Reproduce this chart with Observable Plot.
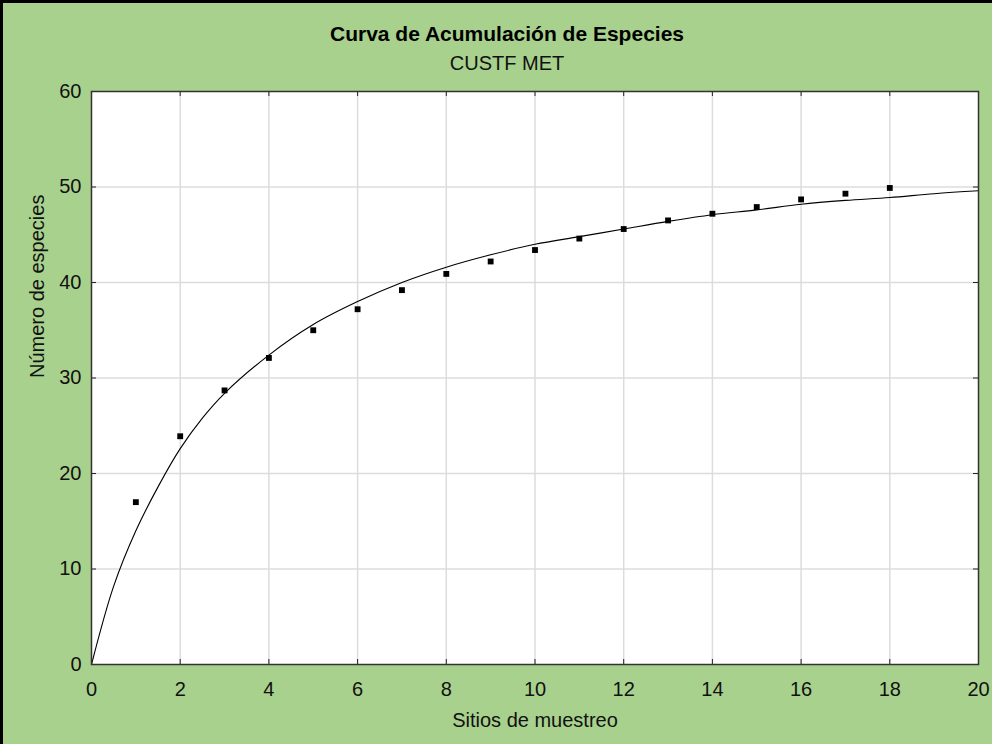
<!DOCTYPE html>
<html>
<head>
<meta charset="utf-8">
<script src="https://cdn.jsdelivr.net/npm/d3@7"></script>
<script src="https://cdn.jsdelivr.net/npm/@observablehq/plot@0.6"></script>
<style>
  html, body { margin: 0; padding: 0; background: #a8d18d; }
  #wrap { position: relative; width: 992px; height: 744px; background: #a8d18d; overflow: hidden; font-family: "Liberation Sans", Arial, sans-serif; }
  #bl { position: absolute; left: 0; top: 0; width: 3px; height: 744px; background: #000; }
  #bt { position: absolute; left: 0; top: 0; width: 992px; height: 3px; background: #000; }
  #head { position: absolute; left: 22px; top: 0; width: 970px; height: 74px; text-align: center; color: #000; }
  #title { position: absolute; left: 0; right: 0; top: 22px; font-size: 21px; line-height: 24px; font-weight: bold; }
  #sub { position: absolute; left: 0; right: 0; top: 52px; font-size: 20px; line-height: 23px; color: #111; }
  #chart { position: absolute; left: 0; top: 74px; }
</style>
</head>
<body>
<div id="wrap">
  <div id="bl"></div><div id="bt"></div>
  <div id="head"><div id="title">Curva de Acumulación de Especies</div><div id="sub">CUSTF MET</div></div>
  <div id="chart"></div>
</div>
<script>
// Observed data: sampling sites and accumulated species
const sitios = [1,2,3,4,5,6,7,8,9,10,11,12,13,14,15,16,17,18];
const especies = [17.0,23.9,28.7,32.1,35.0,37.2,39.2,40.9,42.2,43.4,44.6,45.6,46.5,47.2,47.9,48.7,49.3,49.9];

// Fitted curve
const curvaX = [0,0.5,1,1.5,2,2.5,3,4,5,6,7,8,9,10,11,12,13,14,15,16,17,18,19,20];
const curvaY = [0,8.2,14.0,18.6,22.6,25.8,28.4,32.4,35.6,38.0,40.0,41.6,42.9,44.0,44.8,45.6,46.4,47.1,47.6,48.2,48.6,48.9,49.3,49.6];

// Tick labels
const xTicks = [0,2,4,6,8,10,12,14,16,18,20];
const yTicks = [0,10,20,30,40,50,60];

const puntos = sitios.map((s, i) => ({x: s, y: especies[i]}));
const curva = curvaX.map((x, i) => ({x, y: curvaY[i]}));

const W = 992, H = 670;
const mL = 91, mR = 14, mT = 17, mB = 80;
const pw = W - mL - mR, ph = H - mT - mB;
const tk = 5;

const plot = Plot.plot({
  width: W,
  height: H,
  marginLeft: mL,
  marginRight: mR,
  marginTop: mT,
  marginBottom: mB,
  style: {background: "transparent", fontFamily: "Liberation Sans, Arial, sans-serif", color: "#000", overflow: "visible"},
  x: {domain: [0, 20], ticks: xTicks},
  y: {domain: [0, 60], ticks: yTicks},
  marks: [
    Plot.frame({fill: "white"}),
    Plot.gridX(xTicks.slice(1, -1), {stroke: "#dcdcdc", strokeOpacity: 1, strokeWidth: 1.5}),
    Plot.gridY(yTicks.slice(1, -1), {stroke: "#dcdcdc", strokeOpacity: 1, strokeWidth: 1.5}),
    // inward ticks on all four sides
    Plot.tickY(yTicks, {y: d => d, insetRight: pw - tk, stroke: "#222"}),
    Plot.tickY(yTicks, {y: d => d, insetLeft: pw - tk, stroke: "#222"}),
    Plot.tickX(xTicks, {x: d => d, insetTop: ph - tk, stroke: "#222"}),
    Plot.tickX(xTicks, {x: d => d, insetBottom: ph - tk, stroke: "#222"}),
    Plot.axisX(xTicks, {tickSize: 0, tickPadding: 17, fontSize: 20, label: null, fill: "#111"}),
    Plot.axisY(yTicks, {tickSize: 0, tickPadding: 10, fontSize: 20, label: null, fill: "#111"}),
    Plot.line(curva, {x: "x", y: "y", curve: "catmull-rom", stroke: "#000", strokeWidth: 1.1}),
    Plot.dot(puntos, {x: "x", y: "y", symbol: "square", r: 3.3, fill: "#000", stroke: null}),
    Plot.frame({stroke: "#333", strokeWidth: 1.5}),
    Plot.text(["Sitios de muestreo"], {frameAnchor: "bottom", dy: 62, fontSize: 20, fill: "#111"}),
    Plot.text(["Número de especies"], {frameAnchor: "left", dx: -54, rotate: -90, fontSize: 20, fill: "#111"})
  ]
});
document.getElementById("chart").appendChild(plot);
</script>
</body>
</html>
